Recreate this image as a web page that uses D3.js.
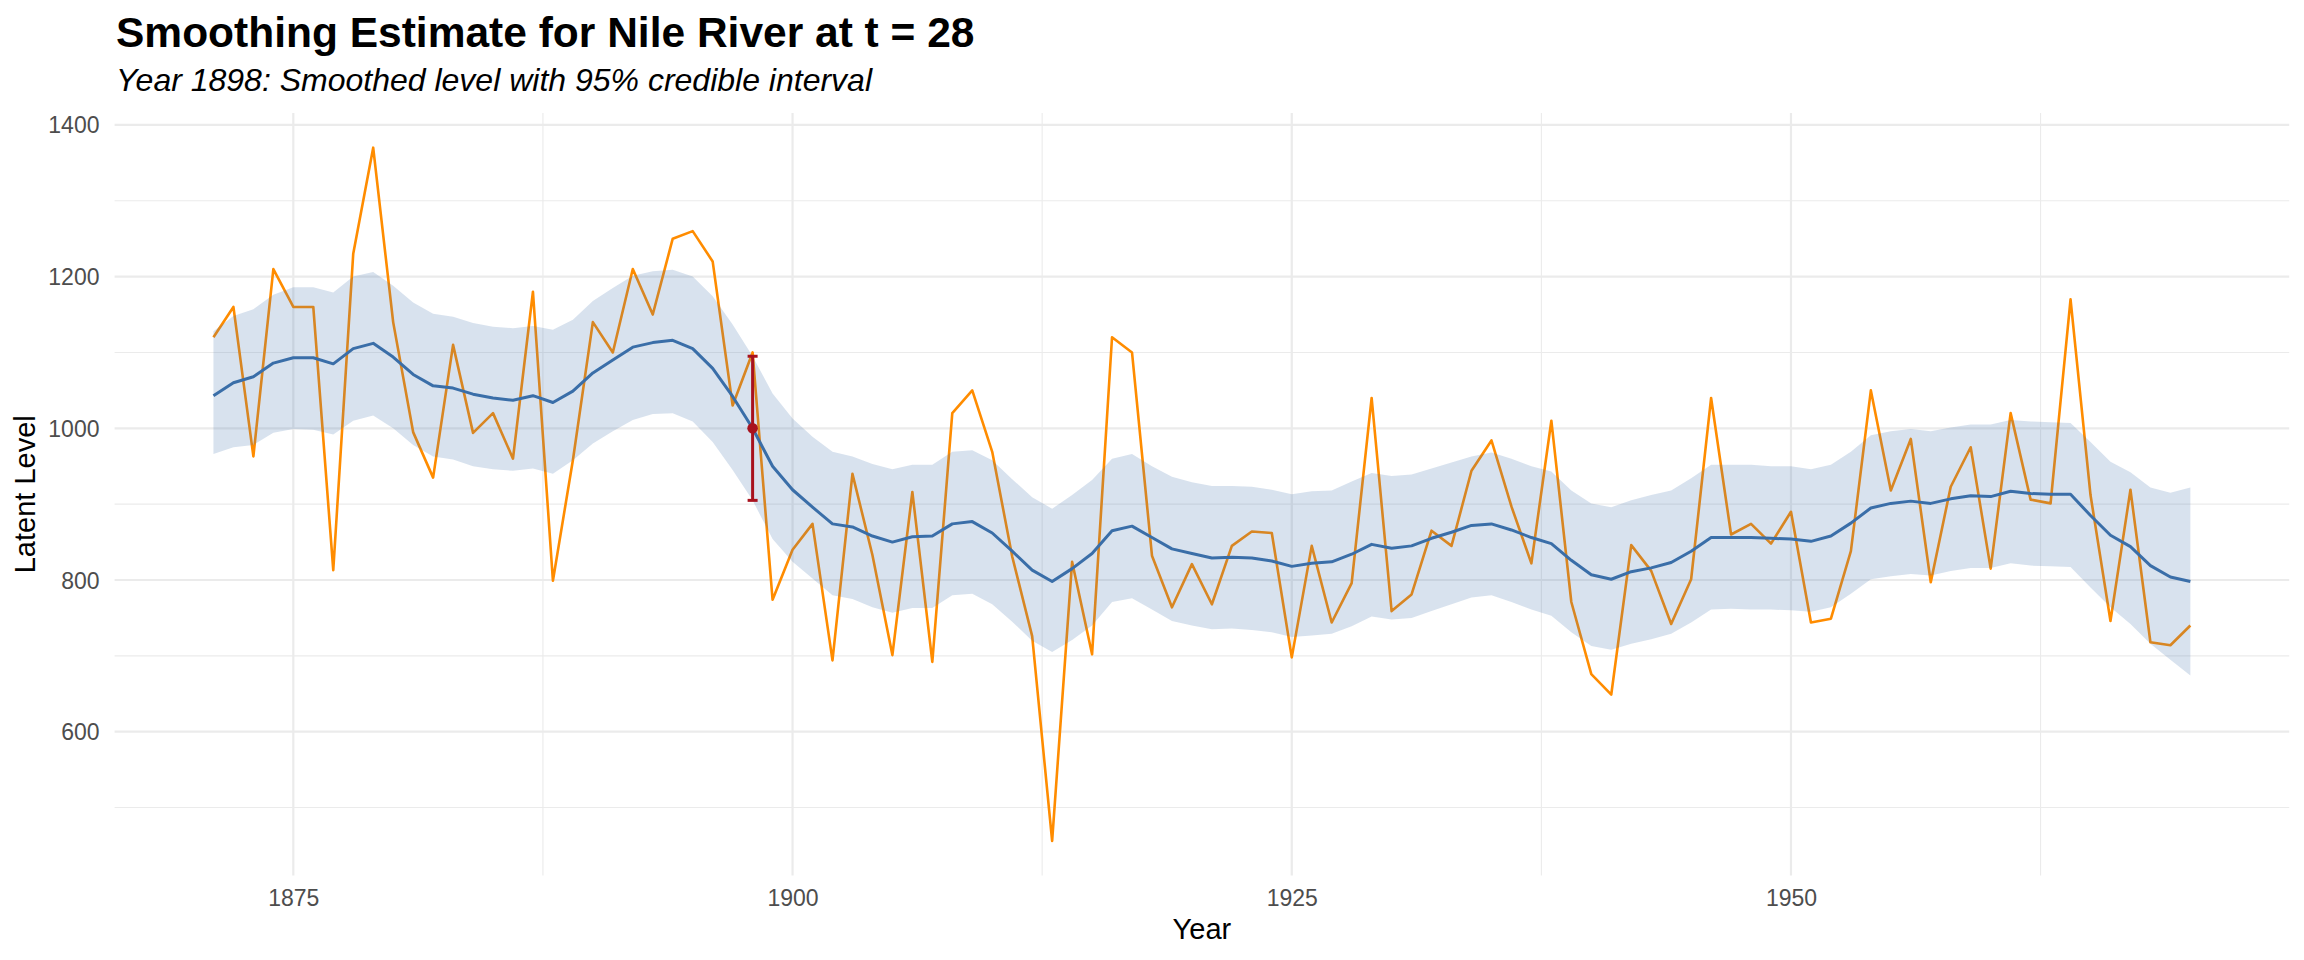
<!DOCTYPE html>
<html>
<head>
<meta charset="utf-8">
<script src="https://cdn.jsdelivr.net/npm/d3@7"></script>
<style>
  body { margin: 0; background: #fff; }
  text { font-family: "Liberation Sans", Arial, Helvetica, sans-serif; }
</style>
</head>
<body>
<svg id="chart"></svg>
<script>
// Nile river flow, 1871-1970
var years = d3.range(1871, 1971);
var observed = [1120, 1160, 963, 1210, 1160, 1160, 813, 1230, 1370, 1140, 995, 935, 1110, 994, 1020, 960, 1180, 799, 958, 1140,
  1100, 1210, 1150, 1250, 1260, 1220, 1030, 1100, 774, 840, 874, 694, 940, 833, 701, 916, 692, 1020, 1050, 969,
  831, 726, 456, 824, 702, 1120, 1100, 832, 764, 821, 768, 845, 864, 862, 698, 845, 744, 796, 1040, 759,
  781, 865, 845, 944, 984, 897, 822, 1010, 771, 676, 649, 846, 812, 742, 801, 1040, 860, 874, 848, 890,
  744, 749, 838, 1050, 918, 986, 797, 923, 975, 815, 1020, 906, 901, 1170, 912, 746, 919, 718, 714, 740];
var smoothed = [1043, 1060, 1068, 1086, 1093, 1093, 1085, 1105, 1112, 1094, 1071, 1056, 1053, 1045, 1040, 1037, 1043, 1034, 1049, 1073,
  1090, 1107, 1113, 1116, 1105, 1079, 1042, 1000, 950, 919, 896, 874, 870, 858, 850, 857, 858, 874, 877, 862,
  838, 813, 798, 815, 835, 865, 871, 856, 841, 835, 829, 830, 829, 825, 818, 822, 824, 834, 847, 842,
  845, 855, 863, 872, 874, 866, 856, 848, 826, 807, 801, 811, 816, 823, 838, 856, 856, 856, 855, 854,
  851, 858, 875, 895, 901, 904, 901, 907, 911, 910, 917, 914, 913, 913, 885, 859, 844, 819, 804, 798];
var upper = [1128, 1148, 1157, 1176, 1186, 1186, 1179, 1200, 1206, 1188, 1166, 1151, 1147, 1139, 1134, 1132, 1135, 1130, 1143, 1168,
  1185, 1201, 1207, 1209, 1200, 1174, 1137, 1095, 1046, 1013, 989, 969, 963, 953, 946, 952, 952, 969, 971, 958,
  933, 909, 894, 912, 932, 960, 966, 950, 936, 929, 924, 924, 923, 919, 913, 917, 918, 930, 941, 937,
  939, 947, 955, 963, 968, 960, 950, 943, 918, 901, 896, 905, 912, 918, 934, 952, 952, 952, 950, 950,
  946, 952, 969, 991, 996, 999, 996, 1001, 1005, 1005, 1011, 1009, 1008, 1007, 982, 956, 942, 922, 915, 922];
var lower = [966, 975, 978, 994, 999, 998, 992, 1010, 1017, 1000, 978, 963, 959, 950, 946, 944, 947, 940, 958, 980,
  996, 1011, 1019, 1020, 1009, 982, 945, 905, 854, 824, 802, 780, 775, 764, 757, 763, 763, 780, 782, 768,
  745, 720, 705, 721, 740, 771, 776, 761, 746, 740, 735, 736, 734, 731, 725, 727, 729, 739, 752, 748,
  750, 759, 768, 777, 780, 771, 761, 753, 731, 713, 708, 716, 722, 729, 744, 761, 762, 761, 761, 760,
  758, 764, 782, 801, 805, 808, 806, 812, 816, 816, 822, 819, 818, 817, 790, 764, 742, 716, 695, 674];

// highlighted time point t = 28
var focusYear = [1898];
var focusMean = [1000];
var focusLower = [905];
var focusUpper = [1095];

var xTicks = [1875, 1900, 1925, 1950];
var xMinor = [1887.5, 1912.5, 1937.5, 1962.5];
var yTicks = [600, 800, 1000, 1200, 1400];
var yMinor = [500, 700, 900, 1100, 1300];

var svgWidth = 2304, svgHeight = 960;
var panelL = 114.6, panelR = 2289.2, panelT = 113, panelB = 875.6;

var svg = d3.select('#chart')
  .attr("width", svgWidth)
  .attr("height", svgHeight);

var series = years.map(function (yr, i) {
  return { year: yr, obs: observed[i], mean: smoothed[i], lo: lower[i], hi: upper[i] };
});

var allVals = observed.concat(upper, lower);
var yMin = d3.min(allVals), yMax = d3.max(allVals);
var yPad = (yMax - yMin) * 0.05;
var xPad = (d3.max(years) - d3.min(years)) * 0.05;

var xScale = d3.scaleLinear()
  .domain([d3.min(years) - xPad, d3.max(years) + xPad])
  .range([panelL, panelR]);

var yScale = d3.scaleLinear()
  .domain([yMin - yPad, yMax + yPad])
  .range([panelB, panelT]);

// grid
var grid = svg.append("g");
grid.selectAll(".ymin").data(yMinor).enter().append("line")
  .attr("x1", panelL).attr("x2", panelR)
  .attr("y1", function (d) { return yScale(d); })
  .attr("y2", function (d) { return yScale(d); })
  .attr("stroke", "#ebebeb").attr("stroke-width", 1.1);
grid.selectAll(".xmin").data(xMinor).enter().append("line")
  .attr("y1", panelT).attr("y2", panelB)
  .attr("x1", function (d) { return xScale(d); })
  .attr("x2", function (d) { return xScale(d); })
  .attr("stroke", "#ebebeb").attr("stroke-width", 1.1);
grid.selectAll(".ymaj").data(yTicks).enter().append("line")
  .attr("x1", panelL).attr("x2", panelR)
  .attr("y1", function (d) { return yScale(d); })
  .attr("y2", function (d) { return yScale(d); })
  .attr("stroke", "#ebebeb").attr("stroke-width", 2.2);
grid.selectAll(".xmaj").data(xTicks).enter().append("line")
  .attr("y1", panelT).attr("y2", panelB)
  .attr("x1", function (d) { return xScale(d); })
  .attr("x2", function (d) { return xScale(d); })
  .attr("stroke", "#ebebeb").attr("stroke-width", 2.2);

// observed series
var obsLine = d3.line()
  .x(function (d) { return xScale(d.year); })
  .y(function (d) { return yScale(d.obs); });

svg.append("path")
  .datum(series)
  .attr("d", obsLine)
  .attr("fill", "none")
  .attr("stroke", "#ff8c00")
  .attr("stroke-width", 2.6)
  .attr("stroke-linejoin", "round");

// credible band
var band = d3.area()
  .x(function (d) { return xScale(d.year); })
  .y0(function (d) { return yScale(d.lo); })
  .y1(function (d) { return yScale(d.hi); });

svg.append("path")
  .datum(series)
  .attr("d", band)
  .attr("fill", "#3a6ea8")
  .attr("fill-opacity", 0.2);

// smoothed level
var meanLine = d3.line()
  .x(function (d) { return xScale(d.year); })
  .y(function (d) { return yScale(d.mean); });

svg.append("path")
  .datum(series)
  .attr("d", meanLine)
  .attr("fill", "none")
  .attr("stroke", "#3a6ea8")
  .attr("stroke-width", 3)
  .attr("stroke-linejoin", "round");

// focus error bar + point
var focus = focusYear.map(function (yr, i) {
  return { year: yr, mean: focusMean[i], lo: focusLower[i], hi: focusUpper[i] };
});
var fg = svg.append("g");
fg.selectAll(".eb").data(focus).enter().append("line")
  .attr("x1", function (d) { return xScale(d.year); })
  .attr("x2", function (d) { return xScale(d.year); })
  .attr("y1", function (d) { return yScale(d.lo); })
  .attr("y2", function (d) { return yScale(d.hi); })
  .attr("stroke", "#a8121e").attr("stroke-width", 3);
["lo", "hi"].forEach(function (k) {
  fg.selectAll(".cap-" + k).data(focus).enter().append("line")
    .attr("x1", function (d) { return xScale(d.year) - 5; })
    .attr("x2", function (d) { return xScale(d.year) + 5; })
    .attr("y1", function (d) { return yScale(d[k]); })
    .attr("y2", function (d) { return yScale(d[k]); })
    .attr("stroke", "#a8121e").attr("stroke-width", 3);
});
fg.selectAll("circle").data(focus).enter().append("circle")
  .attr("cx", function (d) { return xScale(d.year); })
  .attr("cy", function (d) { return yScale(d.mean); })
  .attr("r", 5.3)
  .attr("fill", "#a8121e");

// axes
var xAxis = d3.axisBottom(xScale).tickValues(xTicks).tickSize(0).tickPadding(0).tickFormat(d3.format("d"));
var gx = svg.append("g")
  .attr("transform", "translate(0," + panelB + ")")
  .call(xAxis);
gx.select(".domain").remove();
gx.selectAll("text")
  .attr("y", 30)
  .attr("dy", 0)
  .attr("fill", "#4d4d4d")
  .style("font-size", "23px");

var yAxis = d3.axisLeft(yScale).tickValues(yTicks).tickSize(0).tickPadding(0).tickFormat(d3.format("d"));
var gy = svg.append("g")
  .attr("transform", "translate(99.5,0)")
  .call(yAxis);
gy.select(".domain").remove();
gy.selectAll("text")
  .attr("x", 0)
  .attr("dy", "0.35em")
  .attr("fill", "#4d4d4d")
  .style("font-size", "23px");

// titles
svg.append("text")
  .attr("x", 116).attr("y", 47)
  .style("font-size", "42.5px").style("font-weight", "bold")
  .attr("fill", "#000")
  .text("Smoothing Estimate for Nile River at t = 28");

svg.append("text")
  .attr("x", 116).attr("y", 91)
  .style("font-size", "32px").style("font-style", "italic")
  .attr("fill", "#000")
  .text("Year 1898: Smoothed level with 95% credible interval");

svg.append("text")
  .attr("x", (panelL + panelR) / 2).attr("y", 939)
  .attr("text-anchor", "middle")
  .style("font-size", "29px")
  .attr("fill", "#000")
  .text("Year");

svg.append("text")
  .attr("transform", "translate(35," + ((panelT + panelB) / 2) + ") rotate(-90)")
  .attr("text-anchor", "middle")
  .style("font-size", "29px")
  .attr("fill", "#000")
  .text("Latent Level");
</script>
</body>
</html>
